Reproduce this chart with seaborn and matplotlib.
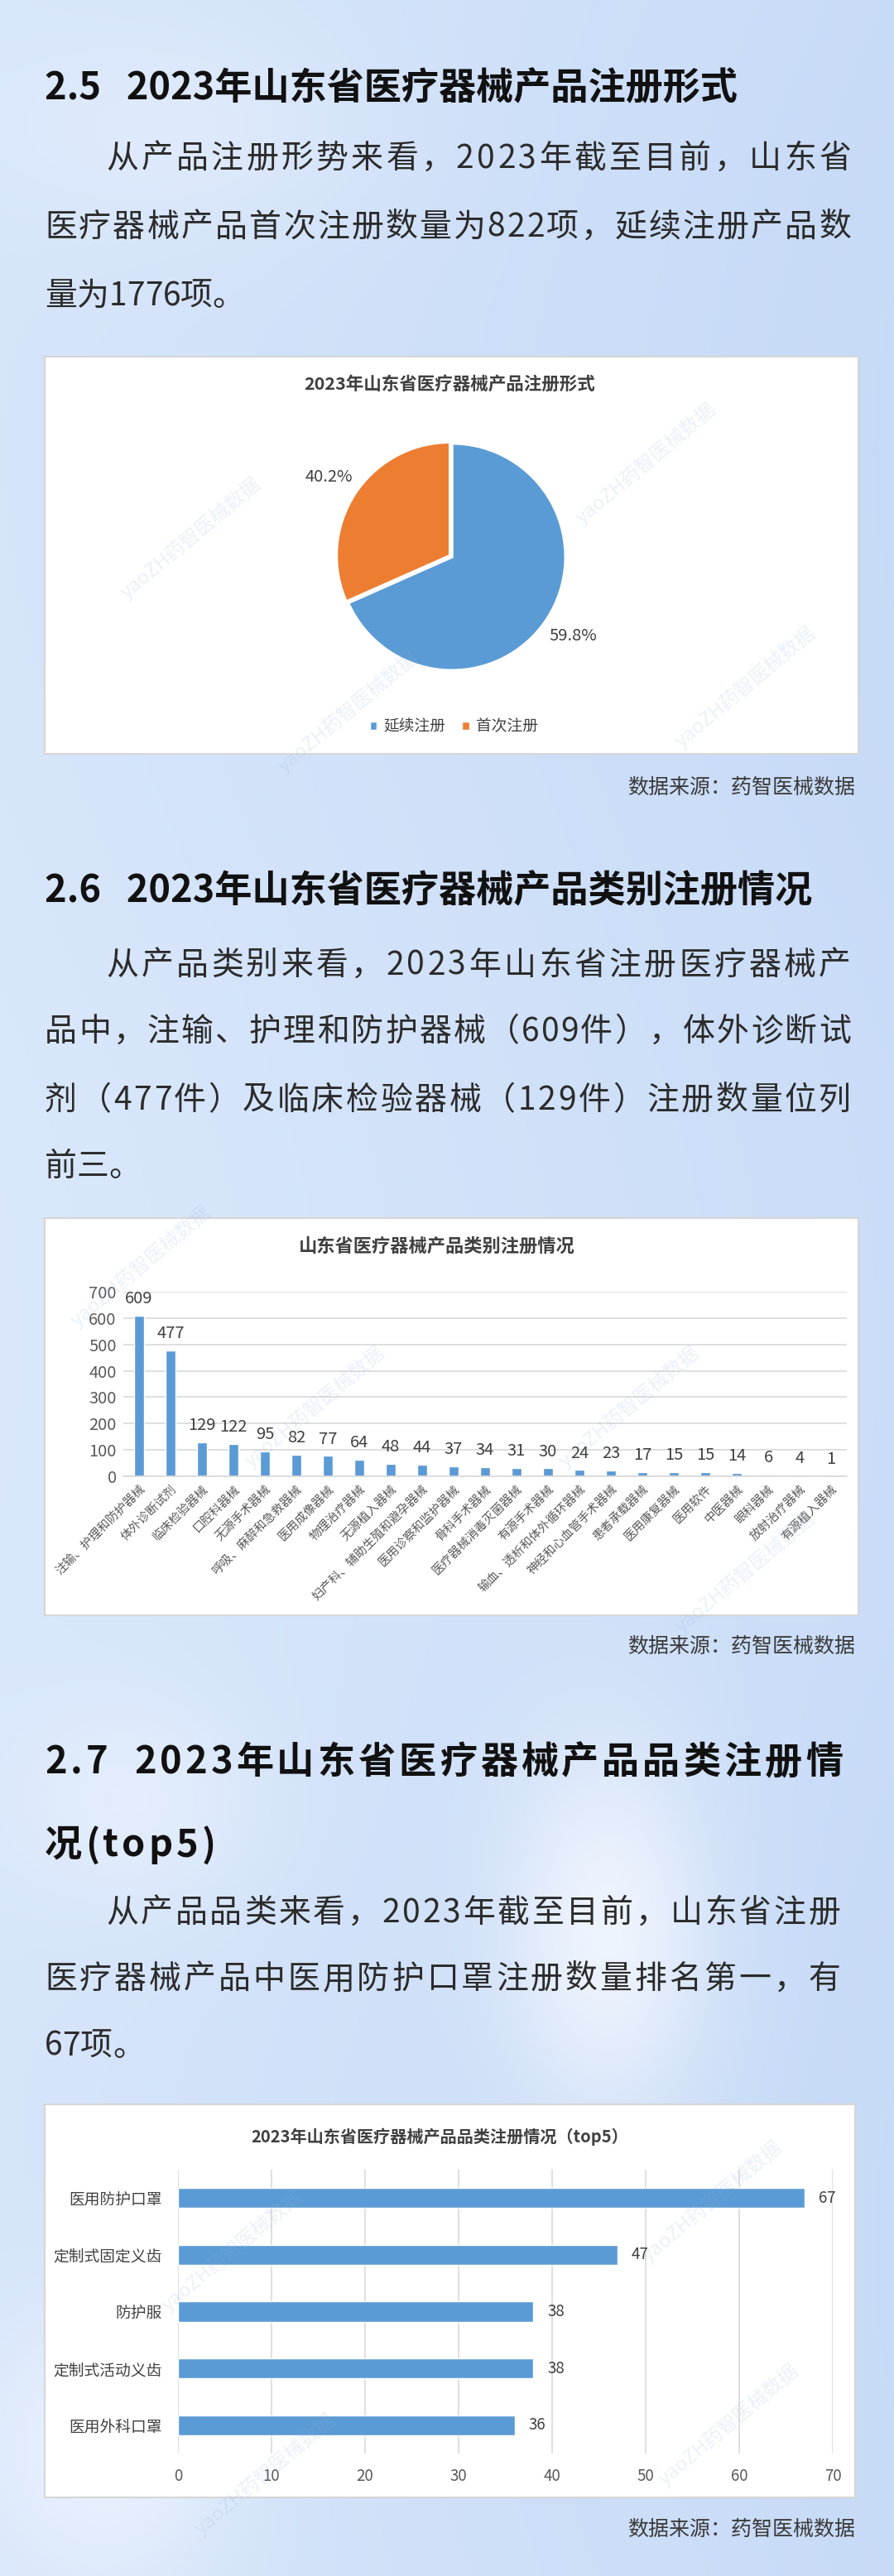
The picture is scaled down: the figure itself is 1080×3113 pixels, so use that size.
import numpy as np
import matplotlib
matplotlib.use("Agg")
import matplotlib.pyplot as plt
import seaborn as sns

# ---- data ----
pie_names = ["延续注册", "首次注册"]
pie_counts = [1776, 822]
pie_pct_text = ["59.8%", "40.2%"]

cat_names = ["注输、护理和防护器械", "体外诊断试剂", "临床检验器械", "口腔科器械", "无源手术器械",
             "呼吸、麻醉和急救器械", "医用成像器械", "物理治疗器械", "无源植入器械",
             "妇产科、辅助生殖和避孕器械", "医用诊察和监护器械", "骨科手术器械",
             "医疗器械消毒灭菌器械", "有源手术器械", "输血、透析和体外循环器械",
             "神经和心血管手术器械", "患者承载器械", "医用康复器械", "医用软件", "中医器械",
             "眼科器械", "放射治疗器械", "有源植入器械"]
cat_counts = [609, 477, 129, 122, 95, 82, 77, 64, 48, 44, 37, 34, 31, 30, 24, 23, 17, 15, 15, 14, 6, 4, 1]
cat_yticks = [0, 100, 200, 300, 400, 500, 600, 700]

top5_names = ["医用防护口罩", "定制式固定义齿", "防护服", "定制式活动义齿", "医用外科口罩"]
top5_counts = [67, 47, 38, 38, 36]
top5_xticks = [0, 10, 20, 30, 40, 50, 60, 70]

W, H = 1080, 3113
BLUE = "#5b9bd5"
ORANGE = "#ed7d31"
TXT = "#2b2b2b"
AX_TXT = "#595959"
GRID = "#d9d9d9"

sns.set_theme(style="white")
plt.rcParams["font.family"] = ["Noto Sans CJK SC", "DejaVu Sans"]

fig = plt.figure(figsize=(W / 100, H / 100), dpi=100)


def fx(x):
    return x / W


def fy(y):
    return 1 - y / H


# ---- background gradient ----
bg = fig.add_axes([0, 0, 1, 1], zorder=-10)
gx, gy = np.meshgrid(np.linspace(0, 1, 216), np.linspace(0, 1, 623))
light = np.array([0.87, 0.92, 0.99])
dark = np.array([0.76, 0.84, 0.96])
t = np.clip(0.55 * gx + 0.25 * np.sin(gy * 9) * 0.3 + 0.2, 0, 1)[..., None]
img = light * (1 - t) + dark * t
for cx, cy, sx, sy, a in [(0.68, 0.75, 0.08, 0.05, 0.8), (0.12, 0.95, 0.1, 0.04, 0.6),
                          (0.15, 0.70, 0.1, 0.03, 0.4), (0.2, 0.05, 0.15, 0.03, 0.3)]:
    g = a * np.exp(-((gx - cx) ** 2 / (2 * sx ** 2) + (gy - cy) ** 2 / (2 * sy ** 2)))
    img = img * (1 - g[..., None]) + np.array([0.97, 0.98, 1.0]) * g[..., None]
bg.imshow(img, aspect="auto", extent=[0, 1, 1, 0], interpolation="bicubic")
bg.set_xlim(0, 1)
bg.set_ylim(1, 0)
bg.axis("off")


def put_line(x0, y, s, size, weight="normal", color=TXT, x1=None, gap=0.0):
    r = fig.canvas.get_renderer()
    widths = []
    for ch in s:
        tt = fig.text(0, 0, ch, fontsize=size, fontweight=weight)
        widths.append(tt.get_window_extent(r).width)
        tt.remove()
    if x1 is not None and len(s) > 1:
        gap = (x1 - x0 - sum(widths)) / (len(s) - 1)
    x = x0
    for ch, w in zip(s, widths):
        fig.text(fx(x), fy(y), ch, fontsize=size, fontweight=weight, color=color,
                 ha="left", va="center")
        x += w + gap
    return gap


def box(x0, y0, x1, y1):
    # white chart card behind the axes
    card = fig.add_axes([fx(x0), fy(y1), fx(x1) - fx(x0), (y1 - y0) / H], zorder=-5)
    card.set_xticks([])
    card.set_yticks([])
    card.set_facecolor("white")
    for s in card.spines.values():
        s.set_color("#d6d6d6")
        s.set_linewidth(1.5)


def watermark(x, y):
    fig.text(fx(x), fy(y), "yaoZH药智医械数据", fontsize=17, rotation=40, color="#8fb0dd",
             alpha=0.18, ha="center", va="center", zorder=5)


HEAD = 32.5
PARA = 28

# ---- section 2.5 ----
fig.text(fx(54), fy(107), "2.5   2023年山东省医疗器械产品注册形式", fontsize=HEAD,
         fontweight="bold", color="#111111", ha="left", va="center")
put_line(128, 192, "从产品注册形势来看，2023年截至目前，山东省", PARA, x1=1028)
put_line(54, 275, "医疗器械产品首次注册数量为822项，延续注册产品数", PARA, x1=1028)
put_line(54, 358, "量为1776项。", PARA)

box(54, 431, 1037, 911)
fig.text(fx(543), fy(465), "2023年山东省医疗器械产品注册形式", fontsize=15.5, fontweight="bold",
         color="#404040", ha="center", va="center")
ax1 = fig.add_axes([fx(406), fy(813), fx(280), 280 / H])
pct_iter = iter(pie_pct_text)
wedges, _, autotexts = ax1.pie(pie_counts, colors=[BLUE, ORANGE], startangle=90, counterclock=False,
                               explode=[0, 0.02], autopct=lambda p: next(pct_iter), pctdistance=1.27,
                               wedgeprops=dict(edgecolor="white", linewidth=2.5),
                               textprops=dict(fontsize=14.5, color="#404040"))
ax1.set_xlim(-1.02, 1.02)
ax1.set_ylim(-1.02, 1.02)
fig.legend(wedges, pie_names, loc="center", bbox_to_anchor=(fx(548), fy(878)), ncol=2,
           frameon=False, fontsize=13.5, handlelength=0.55, handleheight=0.55,
           handletextpad=0.4, columnspacing=1.0, labelcolor="#404040")
fig.text(fx(1033), fy(952), "数据来源：药智医械数据", fontsize=18, color="#3a3a3a",
         ha="right", va="center")

# ---- section 2.6 ----
fig.text(fx(54), fy(1077), "2.6   2023年山东省医疗器械产品类别注册情况", fontsize=HEAD,
         fontweight="bold", color="#111111", ha="left", va="center")
put_line(128, 1167, "从产品类别来看，2023年山东省注册医疗器械产", PARA, x1=1028)
put_line(54, 1247, "品中，注输、护理和防护器械（609件），体外诊断试", PARA, x1=1028)
put_line(54, 1330, "剂（477件）及临床检验器械（129件）注册数量位列", PARA, x1=1028)
put_line(54, 1410, "前三。", PARA)

box(54, 1472, 1037, 1952)
fig.text(fx(528), fy(1506), "山东省医疗器械产品类别注册情况", fontsize=16, fontweight="bold",
         color="#404040", ha="center", va="center")
ax2 = fig.add_axes([fx(149), fy(1784), fx(874), 223 / H])
sns.barplot(x=cat_names, y=cat_counts, ax=ax2, color=BLUE, saturation=1, width=0.32)
ax2.set_ylim(0, 700)
ax2.set_yticks(cat_yticks)
ax2.set_xlim(-0.5, len(cat_names) - 0.5)
ax2.yaxis.grid(True, color=GRID, linewidth=1.2)
ax2.set_axisbelow(True)
ax2.bar_label(ax2.containers[0], padding=7, fontsize=14.5, color="#404040")
ax2.tick_params(axis="y", labelsize=14.5, labelcolor=AX_TXT, length=0, pad=6)
ax2.tick_params(axis="x", labelsize=10.5, labelcolor=AX_TXT, length=0, pad=6)
for lab in ax2.get_xticklabels():
    lab.set_rotation(45)
    lab.set_ha("right")
    lab.set_rotation_mode("anchor")
for s in ["top", "right", "left"]:
    ax2.spines[s].set_visible(False)
ax2.spines["bottom"].set_color(GRID)
ax2.set_xlabel("")
ax2.set_ylabel("")
ax2.set_facecolor("none")
fig.text(fx(1033), fy(1990), "数据来源：药智医械数据", fontsize=18, color="#3a3a3a",
         ha="right", va="center")

# ---- section 2.7 ----
g = put_line(54, 2130, "2.7  2023年山东省医疗器械产品品类注册情", HEAD, weight="bold",
             color="#111111", x1=1018)
put_line(54, 2230, "况(top5)", HEAD, weight="bold", color="#111111", gap=g)
put_line(128, 2312, "从产品品类来看，2023年截至目前，山东省注册", PARA, x1=1015)
put_line(54, 2392, "医疗器械产品中医用防护口罩注册数量排名第一，有", PARA, x1=1015)
put_line(54, 2473, "67项。", PARA)

box(54, 2543, 1033, 3018)
fig.text(fx(531), fy(2582), "2023年山东省医疗器械产品品类注册情况（top5）", fontsize=14.5,
         fontweight="bold", color="#404040", ha="center", va="center")
ax3 = fig.add_axes([fx(215), fy(2965), fx(791), 343 / H])
sns.barplot(x=top5_counts, y=top5_names, orient="h", ax=ax3, color=BLUE, saturation=1, width=0.35)
ax3.set_xlim(0, 70)
ax3.set_xticks(top5_xticks)
ax3.xaxis.grid(True, color=GRID, linewidth=1.2)
ax3.set_axisbelow(True)
ax3.bar_label(ax3.containers[0], padding=12, fontsize=13.5, color="#404040")
ax3.tick_params(axis="y", labelsize=13.5, labelcolor="#404040", length=0, pad=14)
ax3.tick_params(axis="x", labelsize=13.5, labelcolor=AX_TXT, length=0, pad=12)
for s in ["top", "right", "bottom", "left"]:
    ax3.spines[s].set_visible(False)
ax3.set_xlabel("")
ax3.set_ylabel("")
ax3.set_facecolor("none")
fig.text(fx(1033), fy(3057), "数据来源：药智医械数据", fontsize=18, color="#3a3a3a",
         ha="right", va="center")

# faint watermarks inside the chart boxes
for wx, wy in [(230, 650), (420, 860), (780, 560), (900, 830),
               (170, 1530), (380, 1700), (760, 1700), (900, 1900),
               (280, 2720), (320, 2990), (860, 2660), (880, 2930)]:
    watermark(wx, wy)

fig.savefig("out.png", dpi=100)
